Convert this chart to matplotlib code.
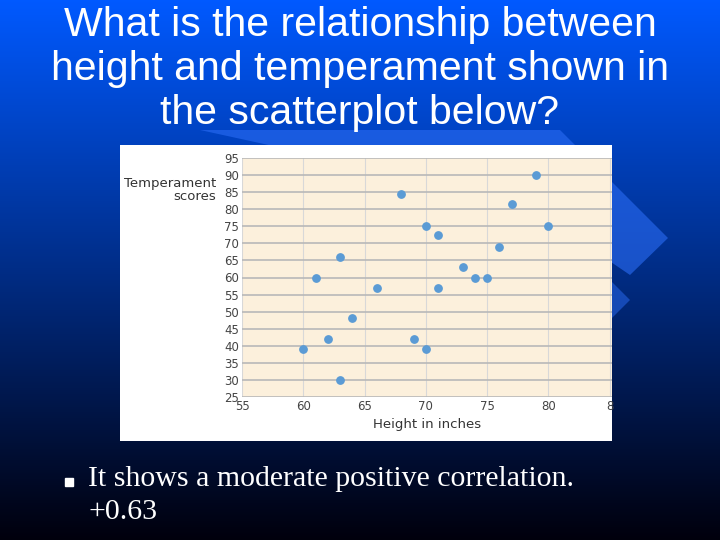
import numpy as np
import matplotlib.pyplot as plt
from matplotlib.patches import Polygon, Rectangle

height = [60, 61, 62, 63, 63, 64, 66, 68, 69, 70, 70, 71, 71, 73, 74, 75, 76, 77, 79, 80]
temper = [39, 60, 42, 66, 30, 48, 57, 84.5, 42, 75, 39, 72.5, 57, 63, 60, 60, 69, 81.5, 90, 75]
xticks = [55, 60, 65, 70, 75, 80, 85]
yticks = list(range(25, 100, 5))

fig = plt.figure(figsize=(7.2, 5.4), dpi=100)
bg = fig.add_axes([0, 0, 1, 1])
grad = np.linspace(0, 1, 256).reshape(-1, 1)
top = np.array([0.0, 0.35, 1.0])
bot = np.array([0.0, 0.0, 0.05])
img = top * (1 - grad[..., None]) + bot * grad[..., None]
img = np.repeat(img, 2, axis=1)
bg.imshow(img, extent=[0, 720, 540, 0], aspect='auto')
bg.add_patch(Polygon([[200, 130], [560, 130], [668, 238], [630, 275], [520, 200]],
                     closed=True, color='#2a6cf5', alpha=0.6, lw=0))
bg.add_patch(Polygon([[600, 270], [630, 300], [600, 330]], closed=True, color='#2a6cf5', alpha=0.5, lw=0))
bg.add_patch(Rectangle((120, 145), 492, 296, color='white', lw=0))
bg.set_xlim(0, 720)
bg.set_ylim(540, 0)
bg.axis('off')

title = "What is the relationship between\nheight and temperament shown in\nthe scatterplot below?"
bg.text(360, 69, title, color='white', fontsize=29.5, family='Liberation Sans',
        ha='center', va='center', linespacing=1.2)
bg.plot([69], [482], marker='s', color='white', markersize=6)
bg.text(88, 466, "It shows a moderate positive correlation.\n+0.63", color='white',
        fontsize=21.5, family='Liberation Serif', va='top', ha='left', linespacing=1.35)

ax = fig.add_axes([242 / 720, 1 - 397 / 540, (612 - 242) / 720, (397 - 158) / 540])
ax.set_facecolor('#fcf0dc')
ax.scatter(height, temper, s=28, color='#5b9bd5', zorder=3)
ax.set_xlim(55, 85.2)
ax.set_ylim(25, 95)
ax.set_xticks(xticks)
ax.set_yticks(yticks)
ax.set_xticklabels([str(v) if v != 85 else '8' for v in xticks])
ax.grid(axis='y', color='#b8b8b8', lw=1.2)
ax.grid(axis='x', color='#d8d8d8', lw=0.8)
ax.set_axisbelow(True)
for s in ax.spines.values():
    s.set_visible(False)
ax.tick_params(length=0, labelsize=8.5, labelcolor='#444444', pad=2)
ax.set_xlabel('Height in inches', fontsize=9.5, color='#333333', labelpad=4)
bg.text(216, 190, 'Temperament\nscores', ha='right', va='center', fontsize=9.5,
        color='#333333', linespacing=1.1)

fig.savefig('out.png')
